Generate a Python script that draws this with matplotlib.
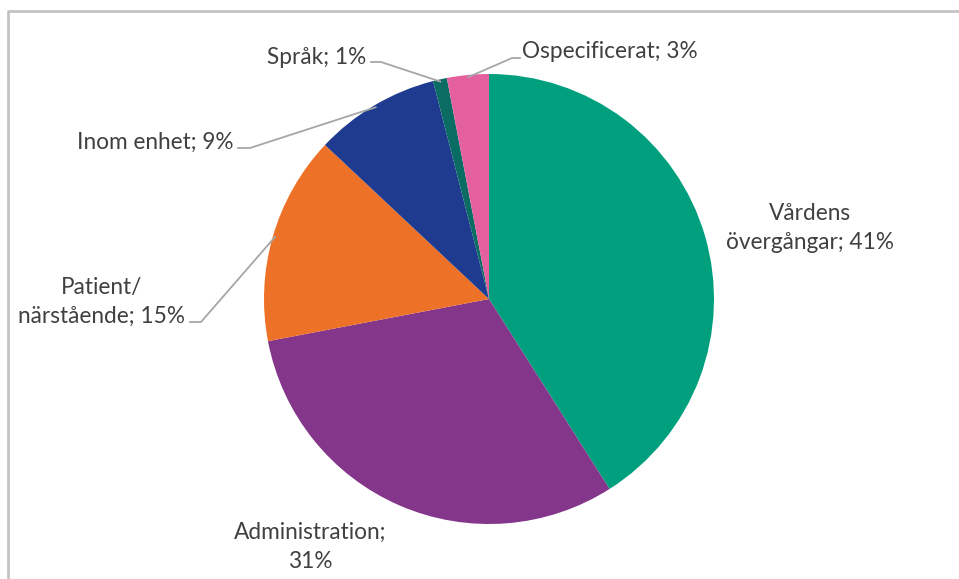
import numpy as np
import matplotlib
matplotlib.use("Agg")
import matplotlib.pyplot as plt

# Données du diagramme
labels = ["Vårdens\növergångar; 41%", "Administration;\n31%", "Patient/\nnärstående; 15%",
          "Inom enhet; 9%", "Språk; 1%", "Ospecificerat; 3%"]
values = [41, 31, 15, 9, 1, 3]
colors = ["#00A07E", "#84368A", "#EE7128", "#1F3B8F", "#0A6C62", "#E5609F"]

W, H = 959, 579
CX, CY, R = 489, H - 299, 225

fig = plt.figure(figsize=(W / 100, H / 100), dpi=100)
ax = fig.add_axes([0, 0, 1, 1])
ax.set_xlim(0, W)
ax.set_ylim(0, H)
ax.set_aspect("equal")
ax.axis("off")

wedges, _ = ax.pie(values, colors=colors, startangle=90, counterclock=False,
                   center=(CX, CY), radius=R, wedgeprops=dict(linewidth=0))
ax.set_xlim(0, W)
ax.set_ylim(0, H)

# cadre du graphique
ax.plot([8, 8, W + 5], [-5, H - 11, H - 11], color="#C4C4C4", lw=2, clip_on=False)

txt = dict(fontsize=16.3, color="#404040", family=["Lato", "DejaVu Sans"],
           linespacing=1.5)

# (position du texte, coude de la ligne ou None) en pixels
layout = [
    ((810, H - 228), None),
    ((310, H - 547), None),
    ((102, H - 302), (190, 201, H - 322)),
    ((155, H - 142), (238, 250, H - 148)),
    ((317, H - 57), (371, 381, H - 62)),
    ((610, H - 52), (520, 512, H - 58)),
]

for w, lab, (pos, elbow) in zip(wedges, labels, layout):
    ax.text(pos[0], pos[1], lab, ha="center", va="center", **txt)
    if elbow is None:
        continue
    ang = np.deg2rad((w.theta1 + w.theta2) / 2)
    px = CX + 0.99 * R * np.cos(ang)
    py = CY + 0.99 * R * np.sin(ang)
    x0, x1, y = elbow
    ax.plot([x0, x1, px], [y, y, py], color="#A6A6A6", lw=1.3)

fig.savefig("out.png", dpi=100)
